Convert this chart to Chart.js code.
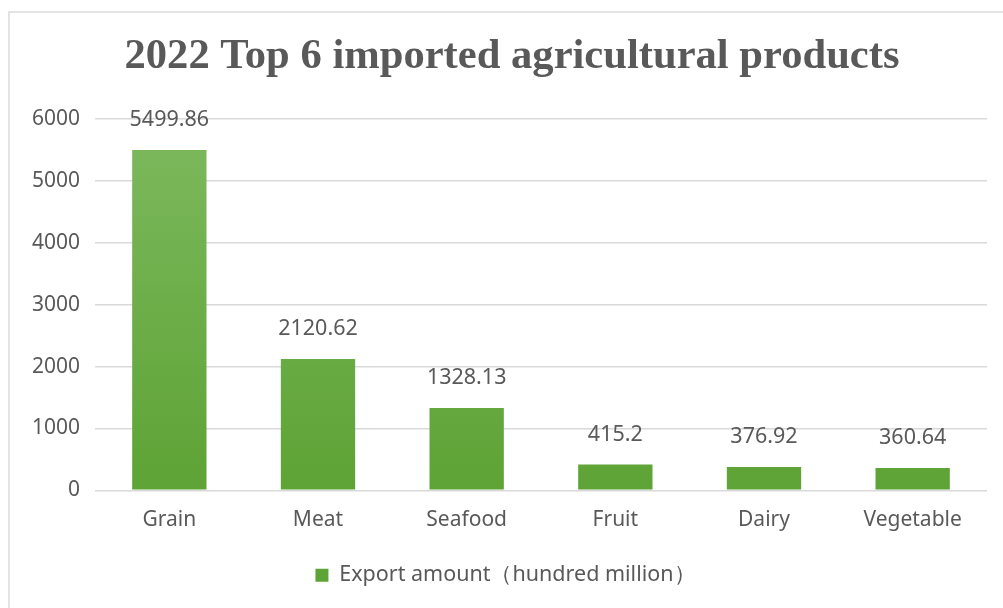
<!DOCTYPE html>
<html>
<head>
<meta charset="utf-8">
<title>2022 Top 6 imported agricultural products</title>
<script src="https://cdn.jsdelivr.net/npm/chart.js@4.4.1/dist/chart.umd.min.js"></script>
<style>
    html, body { margin: 0; padding: 0; background: #fff; }
    #frame {
        position: absolute; left: 8px; top: 11px; width: 1000px; height: 600px;
        border: 2px solid #e3e3e3; border-right: none; border-bottom: none;
    }
    #wrap { position: absolute; left: 0; top: 0; width: 1003px; height: 608px; }
</style>
</head>
<body>
<div id="frame"></div>
<div id="wrap"><canvas id="import-chart"></canvas></div>
<script>
// Chart data
const categories = ['Grain', 'Meat', 'Seafood', 'Fruit', 'Dairy', 'Vegetable'];
const exportAmount = [5499.86, 2120.62, 1328.13, 415.2, 376.92, 360.64];
const yTicks = [0, 1000, 2000, 3000, 4000, 5000, 6000];
const chartTitle = '2022 Top 6 imported agricultural products';

const textColor = '#595959';
const sansFont = "'Noto Sans', 'DejaVu Sans', sans-serif";

// Title, centred on the frame rather than the plot
const frameTitle = {
    id: 'frameTitle',
    afterDraw(chart) {
        const ctx = chart.ctx;
        ctx.save();
        ctx.fillStyle = textColor;
        ctx.font = "bold 42.6px 'Liberation Serif', 'Times New Roman', serif";
        ctx.textAlign = 'center';
        ctx.textBaseline = 'middle';
        ctx.fillText(chartTitle, 512, 57);
        ctx.restore();
    }
};

// Value labels above each bar
const valueLabels = {
    id: 'valueLabels',
    afterDatasetsDraw(chart) {
        const ctx = chart.ctx;
        const meta = chart.getDatasetMeta(0);
        ctx.save();
        ctx.fillStyle = textColor;
        ctx.font = '21.5px ' + sansFont;
        ctx.textAlign = 'center';
        ctx.textBaseline = 'middle';
        meta.data.forEach((bar, i) => {
            ctx.fillText(String(exportAmount[i]), bar.x, bar.y - 30);
        });
        ctx.restore();
    }
};

// Vertical green gradient for bars
function barGradient(context) {
    const area = context.chart.chartArea;
    if (!area) return '#6aac45';
    const g = context.chart.ctx.createLinearGradient(0, area.top, 0, area.bottom);
    g.addColorStop(0, '#7db95e');
    g.addColorStop(1, '#5ea335');
    return g;
}

const ctx = document.getElementById('import-chart').getContext('2d');
const chart = new Chart(ctx, {
    type: 'bar',
    data: {
        labels: categories,
        datasets: [{
            label: 'Export amount\uFF08hundred million\uFF09',
            data: exportAmount,
            backgroundColor: barGradient,
            borderWidth: 0,
            categoryPercentage: 0.5,
            barPercentage: 1.0
        }]
    },
    options: {
        responsive: true,
        maintainAspectRatio: false,
        animation: false,
        layout: { padding: { left: 24, right: 16, top: 119, bottom: 12 } },
        plugins: {
            title: { display: false },
            legend: {
                position: 'bottom',
                labels: {
                    color: textColor,
                    font: { family: sansFont, size: 21.5 },
                    boxWidth: 13,
                    boxHeight: 13,
                    padding: 10
                }
            },
            tooltip: { enabled: false }
        },
        scales: {
            x: {
                afterFit(scale) { scale.height += 5; },
                grid: { display: false, drawTicks: false },
                border: { display: false },
                ticks: { color: textColor, font: { family: sansFont, size: 21 }, padding: 17 }
            },
            y: {
                min: 0,
                max: 6000,
                afterFit(scale) { scale.width = 71; },
                afterBuildTicks(scale) { scale.ticks = yTicks.map(v => ({ value: v })); },
                grid: { color: '#d9d9d9', lineWidth: 1.5, drawTicks: false },
                border: { display: false },
                ticks: {
                    color: textColor,
                    font: { family: sansFont, size: 21 },
                    padding: 15,
                    callback: (v) => String(v)
                }
            }
        }
    },
    plugins: [valueLabels, frameTitle]
});
</script>
</body>
</html>
